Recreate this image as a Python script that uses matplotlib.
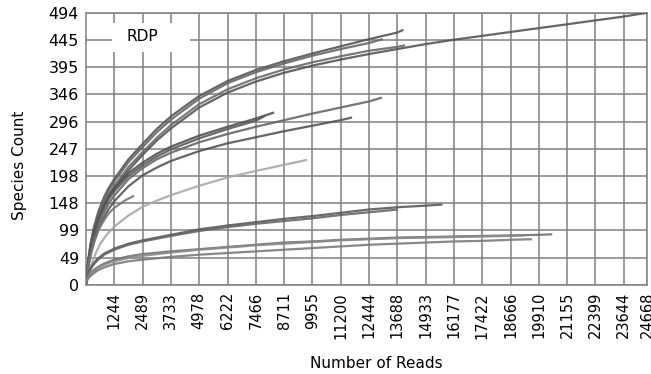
import matplotlib
matplotlib.use("Agg")
import matplotlib.pyplot as plt
from matplotlib.patches import Rectangle

# ---- data ----
x_ticks = [1244, 2489, 3733, 4978, 6222, 7466, 8711, 9955, 11200, 12444, 13688,
           14933, 16177, 17422, 18666, 19910, 21155, 22399, 23644, 24668]
y_ticks = [0, 49, 99, 148, 198, 247, 296, 346, 395, 445, 494]

a_x = [0, 40, 100, 200, 350, 550, 800, 1000, 1244, 1866, 2489, 3111, 3733, 4978, 6222, 7466, 8711, 9955, 11200, 12444, 13688, 13960]
a_y = [0, 22, 45, 75, 105, 134, 160, 176, 192, 228, 256, 283, 306, 343, 370, 390, 406, 420, 433, 446, 458, 463]

b_x = [0, 40, 100, 200, 350, 550, 800, 1000, 1244, 1866, 2489, 3111, 3733, 4978, 6222, 7466, 8711, 9955, 11200, 12444, 13050]
b_y = [0, 21, 44, 73, 102, 130, 156, 172, 188, 223, 250, 277, 300, 338, 366, 386, 402, 416, 428, 439, 446]

c_x = [0, 40, 100, 200, 350, 550, 800, 1000, 1244, 1866, 2489, 3111, 3733, 4978, 6222, 7466, 8711, 9955, 11200, 12444, 13688, 14030]
c_y = [0, 20, 41, 68, 96, 124, 149, 165, 180, 214, 241, 267, 290, 328, 355, 375, 391, 404, 415, 425, 432, 435]

d_x = [0, 40, 100, 200, 350, 550, 800, 1000, 1244, 1866, 2489, 3111, 3733, 4978, 6222, 7466, 8711, 9955, 11200, 12444,
       13688, 14933, 16177, 17422, 18666, 19910, 21155, 22399, 23644, 24668]
d_y = [0, 19, 39, 65, 92, 119, 144, 160, 175, 208, 236, 262, 284, 322, 349, 369, 385, 398, 409, 419,
       428, 437, 445, 452, 459, 466, 473, 480, 487, 494]

e_x = [0, 40, 100, 200, 350, 550, 800, 1000, 1244, 1866, 2489, 3111, 3733, 4978, 6222, 7466, 8270]
e_y = [0, 20, 40, 66, 93, 121, 145, 161, 175, 203, 222, 238, 251, 271, 287, 302, 313]

f_x = [0, 40, 100, 200, 350, 550, 800, 1000, 1244, 1866, 2489, 3111, 3733, 4978, 6222, 7466, 7875]
f_y = [0, 19, 38, 63, 89, 116, 140, 156, 170, 198, 217, 233, 246, 266, 283, 298, 307]

g_x = [0, 40, 100, 200, 350, 550, 800, 1000, 1244, 1866, 2489, 3111, 3733, 4978, 6222, 7466, 8711, 9955, 11200, 12444, 13010]
g_y = [0, 17, 35, 58, 83, 109, 132, 148, 162, 192, 212, 228, 240, 259, 274, 287, 299, 311, 322, 333, 340]

h_x = [0, 40, 100, 200, 350, 550, 800, 1000, 1244, 1866, 2489, 3111, 3733, 4978, 6222, 7466, 8711, 9955, 11200, 11700]
h_y = [0, 16, 32, 54, 77, 101, 123, 138, 152, 179, 199, 213, 225, 243, 257, 268, 279, 289, 299, 304]

i_x = [0, 80, 200, 400, 616, 900, 1244, 1866, 2489, 3111, 3733, 4978, 6222, 7466, 8711, 9720]
i_y = [0, 15, 32, 55, 74, 91, 106, 126, 142, 153, 163, 180, 195, 207, 218, 227]

j_x = [0, 40, 100, 200, 350, 550, 800, 1000, 1244, 1700, 2110]
j_y = [0, 16, 33, 55, 78, 100, 118, 130, 140, 153, 162]

k_x = [0, 30, 80, 160, 300, 500, 800, 1244, 1866, 2489, 3733, 4978, 6222, 7466, 8711, 9955, 11200, 12444, 13688, 14933, 15674]
k_y = [0, 9, 18, 27, 37, 47, 57, 66, 75, 81, 91, 101, 108, 114, 120, 125, 131, 137, 141, 144, 146]

l_x = [0, 30, 80, 160, 300, 500, 800, 1244, 1866, 2489, 3733, 4978, 6222, 7466, 8711, 9955, 11200, 12444, 13720]
l_y = [0, 8, 17, 26, 35, 45, 55, 64, 73, 79, 89, 98, 105, 111, 116, 121, 127, 132, 137]

m_x = [0, 30, 80, 160, 300, 500, 800, 1244, 1866, 2489, 3733, 4978, 6222, 7466, 8711, 9955,
       11200, 12444, 13688, 14933, 16177, 17422, 18666, 19910, 20500]
m_y = [0, 8, 14, 20, 26, 32, 39, 46, 52, 56, 61, 65, 69, 73, 77, 79, 82, 84, 86, 87, 88, 89, 90, 91, 92]

n_x = [0, 30, 80, 160, 300, 500, 800, 1244, 1866, 2489, 3733, 4978, 6222, 7466, 8711, 9955,
       11200, 12444, 13688, 14933, 16177, 17422, 18666, 19270]
n_y = [0, 7, 13, 18, 24, 30, 37, 43, 49, 53, 59, 64, 68, 72, 75, 78, 81, 83, 85, 86, 87, 88, 89, 90]

o_x = [0, 30, 80, 160, 300, 500, 800, 1244, 1866, 2489, 3733, 4978, 6222, 7466, 8711, 9955,
       11200, 12444, 13688, 14933, 16177, 17422, 18666, 19610]
o_y = [0, 6, 11, 15, 20, 26, 32, 38, 43, 46, 51, 55, 58, 61, 64, 67, 70, 73, 75, 77, 79, 80, 82, 83]

curves = [
    (a_x, a_y, "#555555"), (b_x, b_y, "#666666"), (c_x, c_y, "#6a6a6a"), (d_x, d_y, "#555555"),
    (e_x, e_y, "#505050"), (f_x, f_y, "#5a5a5a"), (g_x, g_y, "#666666"), (h_x, h_y, "#555555"),
    (i_x, i_y, "#a8a8a8"), (j_x, j_y, "#777777"),
    (k_x, k_y, "#5a5a5a"), (l_x, l_y, "#666666"),
    (m_x, m_y, "#707070"), (n_x, n_y, "#8a8a8a"), (o_x, o_y, "#7a7a7a"),
]

fig = plt.figure(figsize=(6.51, 3.74), dpi=100)
ax = fig.add_axes([86 / 651, (374 - 285) / 374, (647 - 86) / 651, (285 - 12.7) / 374])

for xs, ys, col in curves:
    ax.plot(xs, ys, color=col, lw=1.6, alpha=0.9, solid_capstyle="butt", zorder=3)

ax.set_xlim(0, 24668)
ax.set_ylim(0, 494)
ax.set_xticks(x_ticks)
ax.set_xticklabels([str(v) for v in x_ticks], rotation=90, fontsize=10.5)
ax.set_yticks(y_ticks)
ax.set_yticklabels([str(v) for v in y_ticks], fontsize=11.5)
ax.tick_params(length=0, pad=5)
ax.grid(True, color="#808080", lw=1.1, zorder=1)
ax.set_axisbelow(True)
for s in ax.spines.values():
    s.set_color("#808080")
    s.set_linewidth(1.1)

ax.add_patch(Rectangle((0.046, 0.857), 0.139, 0.106, transform=ax.transAxes,
                       facecolor="white", edgecolor="none", zorder=2))
ax.text(0.1, 0.912, "RDP", transform=ax.transAxes, ha="center", va="center",
        fontsize=11, zorder=4)

ax.set_xlabel("Number of Reads", fontsize=11)
ax.xaxis.set_label_coords(0.517, -0.26)
ax.set_ylabel("Species Count", fontsize=11)
ax.yaxis.set_label_coords(-0.105, 0.44)

fig.savefig("out.png", dpi=100)
